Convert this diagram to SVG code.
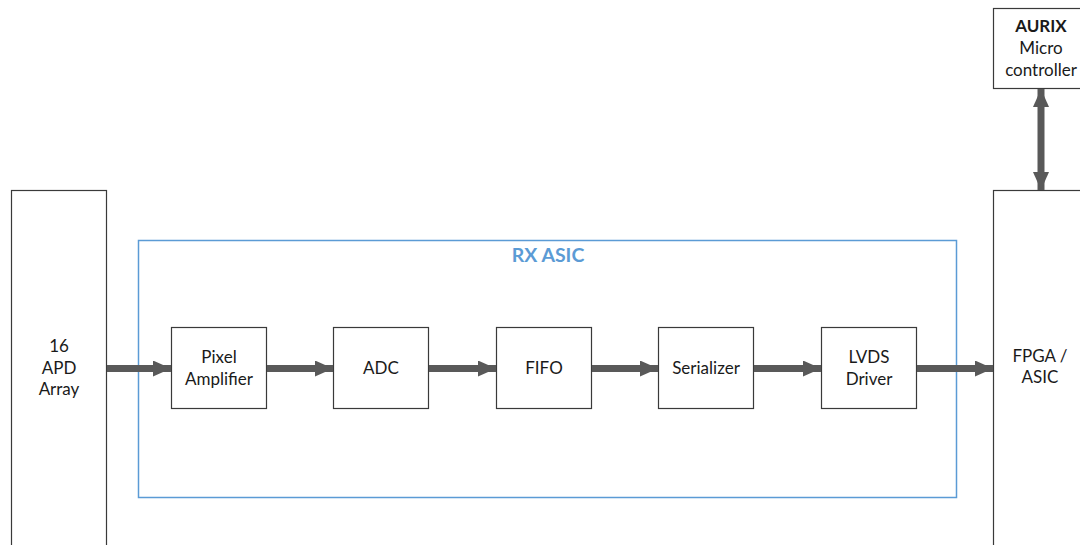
<svg xmlns="http://www.w3.org/2000/svg" width="1080" height="545" viewBox="0 0 1080 545">
  <defs>
    <style>
      .box { fill: #ffffff; stroke: #3a3a3a; stroke-width: 1.2; }
      .asic { fill: none; stroke: #5b9bd5; stroke-width: 1.5; }
      .lbl { font-family: Lato, "Liberation Sans", sans-serif; font-size: 17px; fill: #1a1a1a; text-anchor: middle; }
      .bold { font-weight: bold; }
      .title { font-family: Lato, "Liberation Sans", sans-serif; font-size: 19.5px; font-weight: bold; fill: #5b9bd5; text-anchor: middle; }
      .bar { stroke: #595959; stroke-width: 7; fill: none; }
    </style>
    <marker id="head" viewBox="0 0 18 16" refX="18" refY="8" markerWidth="18" markerHeight="16" markerUnits="userSpaceOnUse" orient="auto-start-reverse">
      <path d="M0,0 L18,8 L0,16 Z" fill="#595959"/>
    </marker>
  </defs>

  <rect width="1080" height="545" fill="#ffffff"/>

  <!-- ASIC boundary -->
  <g id="rx-asic">
    <rect class="asic" x="138.5" y="240.5" width="818" height="257"/>
    <text class="title" x="548" y="262">RX ASIC</text>
  </g>

  <g id="apd-array">
    <rect class="box" x="11.5" y="190.5" width="95" height="360"/>
    <text class="lbl" x="59" y="352">16</text>
    <text class="lbl" x="59" y="374">APD</text>
    <text class="lbl" x="59" y="395">Array</text>
  </g>

  <g id="pixel-amplifier">
    <rect class="box" x="171.5" y="327.5" width="95" height="81"/>
    <text class="lbl" x="219" y="363">Pixel</text>
    <text class="lbl" x="219" y="385">Amplifier</text>
  </g>

  <g id="adc">
    <rect class="box" x="333.5" y="327.5" width="95" height="81"/>
    <text class="lbl" x="381" y="374">ADC</text>
  </g>

  <g id="fifo">
    <rect class="box" x="496.5" y="327.5" width="95" height="81"/>
    <text class="lbl" x="544" y="374">FIFO</text>
  </g>

  <g id="serializer">
    <rect class="box" x="658.5" y="327.5" width="95" height="81"/>
    <text class="lbl" x="706" y="374">Serializer</text>
  </g>

  <g id="lvds-driver">
    <rect class="box" x="821.5" y="327.5" width="95" height="81"/>
    <text class="lbl" x="869" y="363">LVDS</text>
    <text class="lbl" x="869" y="385">Driver</text>
  </g>

  <g id="fpga-asic">
    <rect class="box" x="993.5" y="190.5" width="100" height="360"/>
    <text class="lbl" x="1040" y="362">FPGA /</text>
    <text class="lbl" x="1040" y="383">ASIC</text>
  </g>

  <g id="aurix">
    <rect class="box" x="993.5" y="8.5" width="100" height="80"/>
    <text class="lbl bold" x="1041" y="32">AURIX</text>
    <text class="lbl" x="1041" y="54">Micro</text>
    <text class="lbl" x="1041" y="76">controller</text>
  </g>

  <!-- signal flow -->
  <g id="connectors">
    <line class="bar" x1="107" y1="368.5" x2="171" y2="368.5" marker-end="url(#head)"/>
    <line class="bar" x1="267" y1="368.5" x2="333" y2="368.5" marker-end="url(#head)"/>
    <line class="bar" x1="429" y1="368.5" x2="496" y2="368.5" marker-end="url(#head)"/>
    <line class="bar" x1="592" y1="368.5" x2="658" y2="368.5" marker-end="url(#head)"/>
    <line class="bar" x1="754" y1="368.5" x2="821" y2="368.5" marker-end="url(#head)"/>
    <line class="bar" x1="917" y1="368.5" x2="993" y2="368.5" marker-end="url(#head)"/>
    <line class="bar" x1="1041" y1="89" x2="1041" y2="190" marker-start="url(#head)" marker-end="url(#head)"/>
  </g>
</svg>
